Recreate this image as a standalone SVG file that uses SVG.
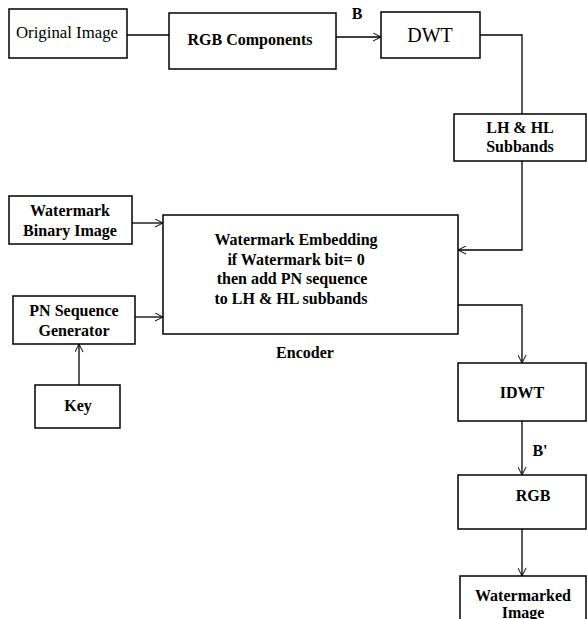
<svg xmlns="http://www.w3.org/2000/svg" width="587" height="619" viewBox="0 0 587 619">
<style>
.box{fill:#fff;stroke:#000;stroke-width:1.5}
.ln{fill:none;stroke:#000;stroke-width:1.3}
.t{font-family:"Liberation Serif","DejaVu Serif",serif;font-weight:bold;font-size:16px;fill:#000;text-anchor:middle}
.n{font-weight:normal}
</style>
<defs>
<marker id="ah" viewBox="0 0 10 10" refX="10" refY="5" markerWidth="9" markerHeight="9" markerUnits="userSpaceOnUse" orient="auto">
<path d="M1,0.5 L10,5 L1,9.5" fill="none" stroke="#000" stroke-width="1.1"/>
</marker>
</defs>
<rect width="587" height="619" fill="#fff"/>
<g id="connectors">
<line class="ln" x1="127" y1="35" x2="169" y2="35"/>
<line class="ln" x1="336" y1="37" x2="381" y2="37" marker-end="url(#ah)"/>
<polyline class="ln" points="480,35 522,35 522,114"/>
<polyline class="ln" points="522,161 522,250 458,250" marker-end="url(#ah)"/>
<line class="ln" x1="132" y1="223" x2="163" y2="223" marker-end="url(#ah)"/>
<line class="ln" x1="135" y1="317" x2="163" y2="317" marker-end="url(#ah)"/>
<line class="ln" x1="79" y1="385" x2="79" y2="344" marker-end="url(#ah)"/>
<polyline class="ln" points="458,305 522,305 522,363" marker-end="url(#ah)"/>
<line class="ln" x1="522" y1="421" x2="522" y2="475" marker-end="url(#ah)"/>
<line class="ln" x1="522" y1="529" x2="522" y2="576" marker-end="url(#ah)"/>
<text class="t" font-family="Liberation Serif, serif" x="357" y="19">B</text>
<text class="t" font-family="Liberation Serif, serif" x="540" y="456">B'</text>
</g>
<g id="original"><rect class="box" x="9" y="9" width="118" height="49"/><text class="t n" font-family="Liberation Serif, serif" x="67" y="38" textLength="102" lengthAdjust="spacingAndGlyphs">Original Image</text></g>
<g id="rgbcomp"><rect class="box" x="169" y="13" width="167" height="56"/><text class="t" font-family="Liberation Serif, serif" x="250" y="45">RGB Components</text></g>
<g id="dwt"><rect class="box" x="381" y="12" width="99" height="46"/><text class="t n" font-family="Liberation Serif, serif" x="430" y="42" style="font-size:20px">DWT</text></g>
<g id="lhhl"><rect class="box" x="454" y="114" width="132" height="47"/><text class="t" font-family="Liberation Serif, serif" x="520" y="133">LH &amp; HL</text><text class="t" font-family="Liberation Serif, serif" x="520" y="152">Subbands</text></g>
<g id="wbi"><rect class="box" x="9" y="196" width="123" height="48"/><text class="t" font-family="Liberation Serif, serif" x="70" y="216">Watermark</text><text class="t" font-family="Liberation Serif, serif" x="70" y="236">Binary Image</text></g>
<g id="embed"><rect class="box" x="163" y="215" width="295" height="119"/>
<text class="t" font-family="Liberation Serif, serif" x="296" y="245">Watermark Embedding</text>
<text class="t" font-family="Liberation Serif, serif" x="296" y="265">if Watermark bit= 0</text>
<text class="t" font-family="Liberation Serif, serif" x="292" y="284">then add PN sequence</text>
<text class="t" font-family="Liberation Serif, serif" x="291" y="304">to LH &amp; HL subbands</text></g>
<g id="encoder"><text class="t" font-family="Liberation Serif, serif" x="305" y="358">Encoder</text></g>
<g id="pn"><rect class="box" x="13" y="296" width="122" height="48"/><text class="t" font-family="Liberation Serif, serif" x="74" y="316">PN Sequence</text><text class="t" font-family="Liberation Serif, serif" x="74" y="336">Generator</text></g>
<g id="key"><rect class="box" x="35" y="385" width="85" height="43"/><text class="t" font-family="Liberation Serif, serif" x="78" y="411">Key</text></g>
<g id="idwt"><rect class="box" x="458" y="363" width="128" height="58"/><text class="t" font-family="Liberation Serif, serif" x="522" y="398">IDWT</text></g>
<g id="rgb"><rect class="box" x="458" y="475" width="128" height="54"/><text class="t" font-family="Liberation Serif, serif" x="533" y="501">RGB</text></g>
<g id="wmimg"><rect class="box" x="460" y="576" width="126" height="60"/><text class="t" font-family="Liberation Serif, serif" x="523" y="601">Watermarked</text><text class="t" font-family="Liberation Serif, serif" x="523" y="618">Image</text></g>
</svg>
